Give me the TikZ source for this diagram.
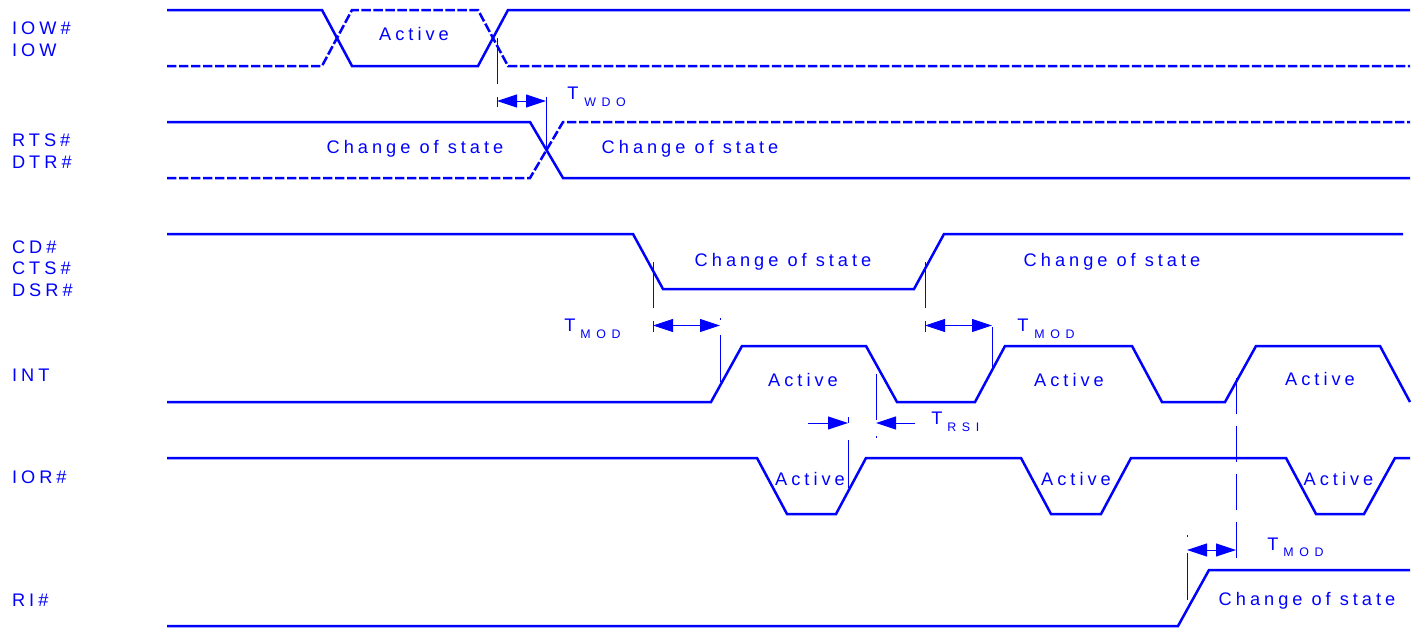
\documentclass[tikz,border=0pt]{standalone}
\usepackage{fontspec}
\usetikzlibrary{arrows.meta}
\newfontfamily\lsfam[LetterSpace=22]{Liberation Sans}
\newfontfamily\lssubfam[LetterSpace=45]{Liberation Sans}
\newcommand\mainf{\lsfam\fontsize{9.1pt}{10pt}\selectfont}
\newcommand\subf{\lssubfam\fontsize{6.2pt}{7pt}\selectfont}
\definecolor{wblue}{RGB}{0,0,255}
\tikzset{
  sig/.style={line width=1.25pt},
  sigd/.style={sig, dash pattern=on 4.7pt off 1.3pt},
  guide/.style={line width=0.5pt},
  guided/.style={line width=0.5pt, dash pattern=on 18pt off 6pt},
  dim/.style={line width=0.5pt, {Triangle[length=10pt,width=6.5pt]}-{Triangle[length=10pt,width=6.5pt]}},
  dimr/.style={line width=0.5pt, -{Triangle[length=10pt,width=6.5pt]}},
  lbl/.style={inner sep=0pt, anchor=base west, font=\mainf, text=wblue},
  txt/.style={inner sep=0pt, anchor=base, font=\mainf, text=wblue},
  tsym/.style={inner sep=0pt, anchor=base west, font=\mainf, text=wblue},
  tsub/.style={inner sep=0pt, anchor=base west, font=\subf, text=wblue},
}
\begin{document}
\begin{tikzpicture}[x=0.5pt,y=-0.5pt,color=wblue]
\useasboundingbox (0,0) rectangle (1418,627);
\fill[white] (0,0) rectangle (1418,627);

% signal names
\node[lbl] (lIOWn) at (11.7,34.3) {IOW\#};
\node[lbl] (lIOW)  at (11.7,56) {IOW};
\node[lbl] (lRTS)  at (11.7,146) {RTS\#};
\node[lbl] (lDTR)  at (11.7,168) {DTR\#};
\node[lbl] (lCD)   at (11.7,253.3) {CD\#};
\node[lbl] (lCTS)  at (11.7,274) {CTS\#};
\node[lbl] (lDSR)  at (11.7,296) {DSR\#};
\node[lbl] (lINT)  at (11.7,381.7) {INT};
\node[lbl] (lIOR)  at (11.7,483.3) {IOR\#};
\node[lbl] (lRI)   at (11.7,606.7) {RI\#};

% waveforms
\draw[sig]  (167,10) -- (322,10) -- (352,66) -- (478,66) -- (508,10) -- (1410,10);
\draw[sigd] (167,66) -- (322,66) -- (352,10) -- (478,10) -- (508,66) -- (1410,66);
\draw[sig]  (167,122) -- (530,122) -- (563,178) -- (1410,178);
\draw[sigd] (167,178) -- (530,178) -- (563,122) -- (1410,122);
\draw[sig]  (167,234) -- (633,234) -- (663,289) -- (914,289) -- (944,234) -- (1403,234);
\draw[sig]  (167,402) -- (711,402) -- (742,346) -- (866,346) -- (897,402) -- (975,402)
            -- (1005,346) -- (1132,346) -- (1162,402) -- (1225,402) -- (1256,346)
            -- (1380,346) -- (1410,402);
\draw[sig]  (167,458) -- (757,458) -- (787,514) -- (836,514) -- (866,458) -- (1021,458)
            -- (1051,514) -- (1101,514) -- (1131,458) -- (1286,458) -- (1316,514)
            -- (1364,514) -- (1395,458) -- (1410,458);
\draw[sig]  (167,626) -- (1178,626) -- (1209,570) -- (1410,570);

% state texts
\node[txt] (tA1) at (414,40) {Active};
\node[txt] (tC1) at (415,153) {Change of state};
\node[txt] (tC2) at (690,153) {Change of state};
\node[txt] (tC3) at (783,266.7) {Change of state};
\node[txt] (tC4) at (1112,266.7) {Change of state};
\node[txt] (tA2) at (803,386.7) {Active};
\node[txt] (tA3) at (1069,386.7) {Active};
\node[txt] (tA4) at (1320,385.7) {Active};
\node[txt] (tA5) at (810,485.7) {Active};
\node[txt] (tA6) at (1076,485.7) {Active};
\node[txt] (tA7) at (1338.5,485.7) {Active};
\node[txt] (tC5) at (1307,605) {Change of state};

% T_WDO
\coordinate (w1) at (497,101);
\coordinate (w2) at (546,101);
\draw[guide] (497,38) -- (497,84);
\draw[guide] (497,97) -- (497,107);
\draw[guide] (546,97) -- (546,150);
\draw[dim] (w1) -- (w2);
\node[tsym] (tw)  at (567,99.3) {T};
\node[tsub] (tws) at (584,106) {WDO};

% T_MOD (CD -> INT)
\coordinate (m1) at (653,325.5);
\coordinate (m2) at (720,325.5);
\draw[guide] (653,262) -- (653,308);
\draw[guide] (653,321) -- (653,332);
\draw[guide] (720,318) -- (720,320);
\draw[guide] (720,335) -- (720,382);
\draw[dim] (m1) -- (m2);
\node[tsym] (tm1)  at (564,331) {T};
\node[tsub] (tm1s) at (580,338.5) {MOD};

% T_MOD (CD -> INT), second
\coordinate (m3) at (925,325.5);
\coordinate (m4) at (992,325.5);
\draw[guide] (925,262) -- (925,308);
\draw[guide] (925,321) -- (925,332);
\draw[guide] (992,327) -- (992,370);
\draw[dim] (m3) -- (m4);
\node[tsym] (tm2)  at (1017,331) {T};
\node[tsub] (tm2s) at (1034,338.5) {MOD};

% T_RSI
\coordinate (r0) at (808,423);
\coordinate (r1) at (848,423);
\coordinate (r2) at (876,423);
\coordinate (r3) at (915,423);
\draw[guide] (848,417) -- (848,423);
\draw[guide] (848,440) -- (848,488);
\draw[guide] (876,374) -- (876,420);
\draw[guide] (876,436) -- (876,438);
\draw[dimr] (r0) -- (r1);
\draw[dimr] (r3) -- (r2);
\node[tsym] (tr)  at (931,424) {T};
\node[tsub] (trs) at (947,431) {RSI};

% T_MOD (INT/IOR -> RI)
\coordinate (m5) at (1187,550);
\coordinate (m6) at (1236,550);
\draw[guided] (1236,378) -- (1236,560);
\draw[guide] (1187,535) -- (1187,537);
\draw[guide] (1187,553) -- (1187,600);
\draw[dim] (m5) -- (m6);
\node[tsym] (tm3)  at (1267,550) {T};
\node[tsub] (tm3s) at (1283,556.5) {MOD};
\end{tikzpicture}
\end{document}
